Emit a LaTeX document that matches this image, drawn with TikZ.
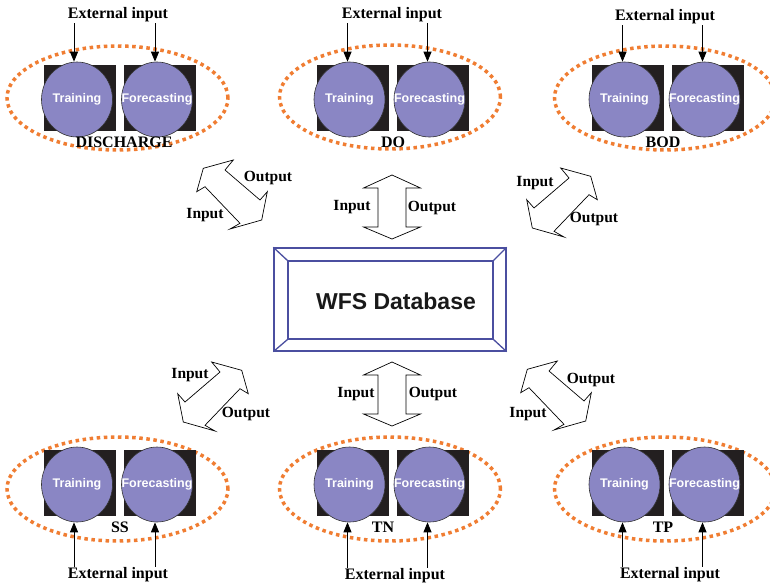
\documentclass[tikz,border=0pt]{standalone}
\usepackage{fontspec}
\setmainfont{Liberation Serif}
\newfontfamily\arialf{Liberation Sans}
\usetikzlibrary{arrows.meta,calc,shapes.geometric}
\definecolor{lav}{RGB}{138,134,196}
\definecolor{sqc}{RGB}{35,31,32}
\definecolor{orng}{RGB}{240,125,50}
\definecolor{dbframe}{RGB}{75,79,160}
\newcommand\grpdraw[6]{% name, gx, gy, ellipse dy, label x, label
  \node[ring] (#1r) at (#2,#3+#4) {};
  \node[sqbox] (#1s1) at (#2-37.5,#3) {};
  \node[sqbox] (#1s2) at (#2+42.5,#3) {};
  \node[disc] (#1a) at (#2-40.5,#3+1.5) {};
  \node[disc] (#1b) at (#2+39.5,#3+1.5) {};
  \node[disctext] (#1at) at (#1a) {Training};
  \node[disctext] (#1bt) at (#1b) {Forecasting};
  \node[grplabel] (#1l) at (#5,#3+44) {#6};
}
\newcommand\diagarrow{%
  \draw[blockarrow] (1.3,-34.5) -- (-28.7,-26.2) -- (-35.3,-2.8) -- (-27,-7.8) -- (8,28.8) -- (-2,34.5) -- (29.7,25.5) -- (35.3,-2.8) -- (28,5.5) -- (-7,-24.5) -- cycle;
}
\newcommand\vertarrow{%
  \draw[blockarrow] (0,-32) -- (28.5,-19) -- (14,-19) -- (14,20) -- (28.5,20) -- (0,32) -- (-28.5,20) -- (-14,20) -- (-14,-19) -- (-28.5,-19) -- cycle;
}
\begin{document}
\begin{tikzpicture}[x=1pt,y=-1pt,
  ring/.style={ellipse, draw=orng, line width=3.5pt, dash pattern=on 3.5pt off 3.6pt, minimum width=221pt, minimum height=104pt, inner sep=0pt},
  sqbox/.style={rectangle, fill=sqc, minimum width=72pt, minimum height=66pt, inner sep=0pt},
  disc/.style={ellipse, fill=lav, draw=black!80, line width=0.6pt, minimum width=71pt, minimum height=75pt, inner sep=0pt},
  disctext/.style={text=white, font=\arialf\bfseries\fontsize{12.5}{14}\selectfont, inner sep=0pt},
  grplabel/.style={font=\bfseries\fontsize{16}{18}\selectfont, inner sep=0pt},
  extlabel/.style={font=\bfseries\fontsize{16}{18}\selectfont, inner sep=1pt},
  iolabel/.style={font=\bfseries\fontsize{15.5}{18}\selectfont, inner sep=0pt},
  extarrow/.style={line width=0.9pt, -{Triangle[length=10pt,width=8pt]}},
  blockarrow/.style={draw=black, line width=0.7pt, fill=white, line join=miter},
  dbline/.style={draw=dbframe, line width=1.3pt}
]
\useasboundingbox (0,0) rectangle (770,587);
\clip (0,0) rectangle (770,587);
\fill[white] (0,0) rectangle (770,587);

% groups
\grpdraw{g1}{117.5}{98}{0}{124}{DISCHARGE}
\grpdraw{g2}{390}{98}{-1}{393}{DO}
\grpdraw{g3}{665}{98}{0}{663}{BOD}
\grpdraw{g4}{117.5}{483}{6}{120}{SS}
\grpdraw{g5}{390}{483}{6}{383}{TN}
\grpdraw{g6}{665}{483}{6}{663}{TP}

% external inputs (top)
\node[extlabel] (e1) at (118,15) {External input};
\node[extlabel] (e2) at (392,15) {External input};
\node[extlabel] (e3) at (665,17) {External input};
\draw[extarrow] ([xshift=-3pt]g1a.north |- e1.south) -- ([xshift=-3pt]g1a.north);
\draw[extarrow] ([xshift=-2pt]g1b.north |- e1.south) -- ([xshift=-2pt]g1b.north);
\draw[extarrow] ([xshift=-2pt]g2a.north |- e2.south) -- ([xshift=-2pt]g2a.north);
\draw[extarrow] ([xshift=-2pt]g2b.north |- e2.south) -- ([xshift=-2pt]g2b.north);
\draw[extarrow] ([xshift=-2pt]g3a.north |- e3.south) -- ([xshift=-2pt]g3a.north);
\draw[extarrow] ([xshift=-2pt]g3b.north |- e3.south) -- ([xshift=-2pt]g3b.north);

% external inputs (bottom)
\node[extlabel] (e4) at (118,575) {External input};
\node[extlabel] (e5) at (395,576) {External input};
\node[extlabel] (e6) at (670,575) {External input};
\draw[extarrow] ([xshift=-3pt]g4a.south |- e4.north) -- ([xshift=-3pt]g4a.south);
\draw[extarrow] ([xshift=-2pt]g4b.south |- e4.north) -- ([xshift=-2pt]g4b.south);
\draw[extarrow] ([xshift=-2pt]g5a.south |- e5.north) -- ([xshift=-2pt]g5a.south);
\draw[extarrow] ([xshift=-2pt]g5b.south |- e5.north) -- ([xshift=-2pt]g5b.south);
\draw[extarrow] ([xshift=-2pt]g6a.south |- e6.north) -- ([xshift=-2pt]g6a.south);
\draw[extarrow] ([xshift=-2pt]g6b.south |- e6.north) -- ([xshift=-2pt]g6b.south);

% database
\node[rectangle, dbline, minimum width=232pt, minimum height=103pt, inner sep=0pt] (db) at (390,299.5) {};
\node[rectangle, dbline, minimum width=205pt, minimum height=78pt, inner sep=0pt] (dbi) at (390.5,300) {};
\draw[dbline] (db.north west) -- (dbi.north west);
\draw[dbline] (db.north east) -- (dbi.north east);
\draw[dbline] (db.south west) -- (dbi.south west);
\draw[dbline] (db.south east) -- (dbi.south east);
\node[font=\arialf\bfseries\fontsize{23}{27}\selectfont, text=black!90] (dbt) at (396,301) {WFS Database};

% block arrows
\begin{scope}[shift={(232,194.5)}]\diagarrow\end{scope}
\begin{scope}[shift={(562,202.5)}, xscale=-1]\diagarrow\end{scope}
\begin{scope}[shift={(213,396.5)}, xscale=-1]\diagarrow\end{scope}
\begin{scope}[shift={(556,395.5)}]\diagarrow\end{scope}
\begin{scope}[shift={(392,207)}]\vertarrow\end{scope}
\begin{scope}[shift={(392,394)}]\vertarrow\end{scope}

% io labels
\node[iolabel] (o1) at (268,178) {Output};
\node[iolabel] (i1) at (205,215) {Input};
\node[iolabel] (i2) at (352,207) {Input};
\node[iolabel] (o2) at (432,208) {Output};
\node[iolabel] (i3) at (535,183) {Input};
\node[iolabel] (o3) at (594,219) {Output};
\node[iolabel] (i4) at (190,375) {Input};
\node[iolabel] (o4) at (246,414) {Output};
\node[iolabel] (i5) at (356,394) {Input};
\node[iolabel] (o5) at (433,394) {Output};
\node[iolabel] (o6) at (591,380) {Output};
\node[iolabel] (i6) at (528,414) {Input};
\end{tikzpicture}
\end{document}
